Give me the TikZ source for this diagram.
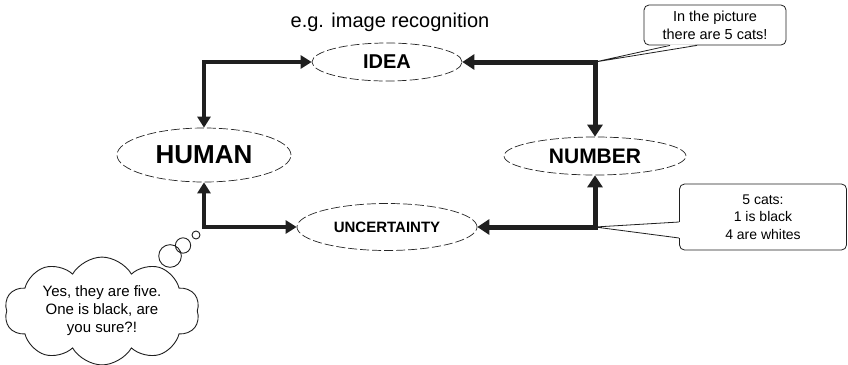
\documentclass[tikz,border=0pt]{standalone}
\usepackage{fontspec}
\setmainfont{Liberation Sans}
\usetikzlibrary{arrows.meta,shapes.geometric,shapes.symbols,shapes.callouts}

\begin{document}
\begin{tikzpicture}[x=1pt, y=-1pt,
  concept/.style={ellipse, draw=black!85, line width=0.7pt, dash pattern=on 9pt off 3pt, inner sep=0pt},
  link/.style={draw=black!88, line width=4pt, {Triangle[length=11pt,width=13pt]}-{Triangle[length=11pt,width=13pt]}},
  wide link/.style={link, line width=5pt, {Triangle[length=12pt,width=15pt]}-{Triangle[length=12pt,width=15pt]}},
  note/.style={draw=black!88, line width=0.8pt, rounded corners=5pt, align=center, inner sep=0pt},
  pointer/.style={draw=black!88, line width=0.8pt}]
  \useasboundingbox (0,0) rectangle (848,364);

  \node[font=\fontsize{20}{24}\selectfont] (title) at (390,22) {e.g. image recognition};

  \node[concept, minimum width=150pt, minimum height=38pt, font=\bfseries\fontsize{20}{24}\selectfont] (idea) at (387,62) {IDEA};
  \node[concept, minimum width=174pt, minimum height=54pt, font=\bfseries\fontsize{26}{30}\selectfont] (human) at (204,155) {HUMAN};
  \node[concept, minimum width=182pt, minimum height=38pt, font=\bfseries\fontsize{21}{25}\selectfont] (number) at (595,156) {NUMBER};
  \node[concept, minimum width=180pt, minimum height=47pt, font=\bfseries\fontsize{15}{18}\selectfont] (uncertainty) at (387,227) {UNCERTAINTY};

  \coordinate (top corner) at (idea.east -| number.north);
  \coordinate (low corner) at (uncertainty.east -| number.south);

  % speech boxes
  \node[note, minimum width=142pt, minimum height=40pt, font=\fontsize{14.5}{18}\selectfont] (picture) at (715,25) {In the picture\\there are 5 cats!};
  \node[note, minimum width=167pt, minimum height=66pt, font=\fontsize{14}{17.5}\selectfont] (count) at (763,217) {5 cats:\\1 is black\\4 are whites};

  \fill[white] ([xshift=-45pt,yshift=1pt]picture.south) -- (top corner) -- ([xshift=-18pt,yshift=1pt]picture.south) -- cycle;
  \draw[pointer] ([xshift=-45pt]picture.south) -- (top corner) -- ([xshift=-18pt]picture.south);
  \fill[white] ([xshift=1pt,yshift=-5pt]count.west) -- (low corner) -- ([xshift=1pt,yshift=-21pt]count.west) -- cycle;
  \draw[pointer] ([yshift=-5pt]count.west) -- (low corner) -- ([yshift=-21pt]count.west);

  % thought
  \node[cloud callout, draw=black!88, line width=0.9pt, cloud puffs=10, cloud puff arc=120, cloud ignores aspect,
        minimum width=195pt, minimum height=92pt, align=center, font=\fontsize{15}{18}\selectfont,
        callout absolute pointer={(196,235)}, callout pointer segments=3,
        callout pointer start size=30pt, callout pointer end size=8pt] (thought) at (102,311)
        {Yes, they are five.\\One is black, are\\you sure?!};

  \draw[link] (idea.west) -| (human.north);
  \draw[wide link] (idea.east) -| (number.north);
  \draw[link] (human.south) |- (uncertainty.west);
  \draw[wide link] (number.south) |- (uncertainty.east);
\end{tikzpicture}
\end{document}
